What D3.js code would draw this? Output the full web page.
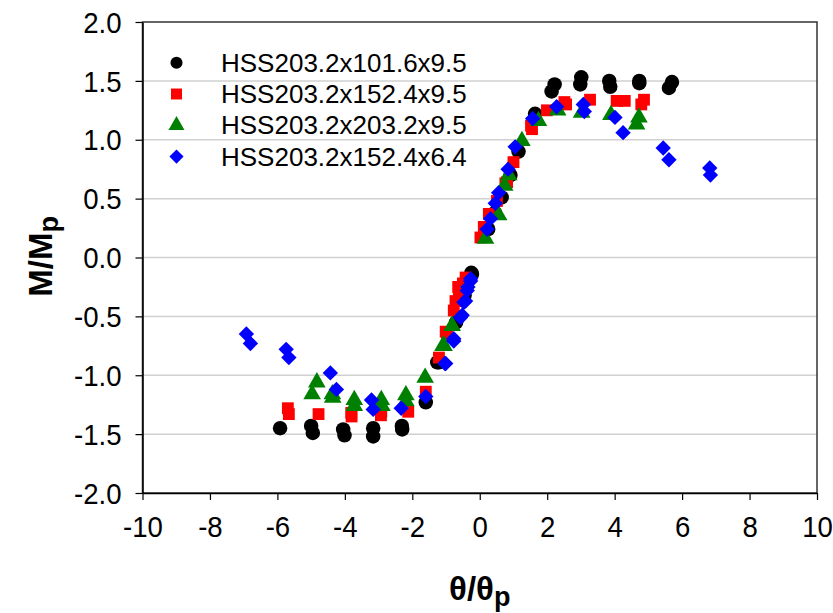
<!DOCTYPE html>
<html>
<head>
<meta charset="utf-8">
<script src="https://cdn.jsdelivr.net/npm/d3@7"></script>
<style>
  body { margin: 0; background: #fff; }
  text { font-family: "Liberation Sans", Arial, sans-serif; }
</style>
</head>
<body>
<div id="chart"></div>
<script>
// series names
var NAMES = ["HSS203.2x101.6x9.5", "HSS203.2x152.4x9.5", "HSS203.2x203.2x9.5", "HSS203.2x152.4x6.4"];

// black circles
var s1 = [[2.22,1.47],[2.13,1.41],[3.01,1.53],[2.98,1.47],[3.84,1.50],[3.87,1.45],[4.73,1.50],[4.73,1.48],
  [5.70,1.49],[5.61,1.44],[1.64,1.22],[1.15,0.90],[0.91,0.70],[0.65,0.51],[0.45,0.38],[0.25,0.24],
  [-0.23,-0.14],[-0.25,-0.13],[-0.45,-0.32],[-0.7,-0.55],[-1.26,-0.89],[-1.21,-0.89],[-1.60,-1.23],
  [-2.31,-1.43],[-2.30,-1.46],[-3.16,-1.45],[-3.16,-1.52],[-4.05,-1.46],[-4.01,-1.51],
  [-5.0,-1.43],[-4.95,-1.49],[-5.92,-1.45]];
// red squares
var s2 = [[2.51,1.32],[2.56,1.30],[3.27,1.34],[4.06,1.33],[4.3,1.33],[4.87,1.34],[4.79,1.30],[1.99,1.25],
  [1.55,1.09],[1.52,1.12],[1.0,0.81],[0.81,0.64],[0.76,0.63],[0.51,0.48],[0.27,0.37],[0.12,0.26],[0.02,0.17],
  [-0.42,-0.17],[-0.50,-0.22],[-0.62,-0.34],[-0.64,-0.25],[-0.72,-0.37],[-0.77,-0.45],[-0.97,-0.66],
  [-1.01,-0.63],[-1.21,-0.85],[-1.60,-1.14],[-2.12,-1.31],[-2.93,-1.34],[-2.92,-1.31],[-3.80,-1.35],
  [-3.81,-1.32],[-4.78,-1.33],[-5.69,-1.28],[-5.66,-1.33]];
// green triangles
var s3 = [[2.31,1.25],[3.02,1.23],[3.89,1.21],[4.72,1.19],[4.65,1.13],[1.74,1.16],[1.25,0.99],[0.86,0.70],
  [0.74,0.61],[0.56,0.36],[0.17,0.16],[-0.82,-0.58],[-1.06,-0.75],[-1.09,-0.75],[-1.62,-1.02],
  [-2.19,-1.17],[-2.19,-1.22],[-2.92,-1.21],[-2.90,-1.26],[-3.72,-1.21],[-3.72,-1.26],[-4.36,-1.19],
  [-4.37,-1.16],[-4.83,-1.06],[-4.97,-1.16]];
// blue diamonds
var s4 = [[2.28,1.28],[3.07,1.30],[3.10,1.24],[4.01,1.19],[4.25,1.06],[5.44,0.93],[5.61,0.83],[6.82,0.76],
  [6.84,0.70],[1.57,1.18],[1.05,0.94],[0.84,0.75],[0.56,0.55],[0.46,0.46],[0.32,0.33],[0.22,0.24],
  [-0.27,-0.18],[-0.27,-0.20],[-0.35,-0.25],[-0.37,-0.28],[-0.42,-0.37],[-0.47,-0.38],[-0.52,-0.49],
  [-0.57,-0.51],[-0.77,-0.69],[-0.77,-0.71],[-1.01,-0.90],[-1.03,-0.90],[-1.60,-1.18],[-2.33,-1.28],
  [-3.21,-1.21],[-3.16,-1.29],[-4.25,-1.12],[-4.43,-0.98],[-5.66,-0.85],[-5.74,-0.78],[-6.80,-0.73],[-6.92,-0.65]];

var X_TICKS = [-10,-8,-6,-4,-2,0,2,4,6,8,10];
var Y_TICKS = [-2.0,-1.5,-1.0,-0.5,0.0,0.5,1.0,1.5,2.0];

var margin = {top: 22, right: 16, bottom: 120, left: 142.5},
    width = 833 - margin.left - margin.right,
    height = 613 - margin.top - margin.bottom;

var svg = d3.select("#chart")
    .append("svg")
    .attr("width", 833)
    .attr("height", 613)
    .append("g")
    .attr("transform", "translate(" + margin.left + "," + margin.top + ")");

var x = d3.scaleLinear().domain([-10, 10]).range([0, width]);
var y = d3.scaleLinear().domain([-2, 2]).range([height, 0]);

// gridlines
svg.selectAll(".grid")
    .data(Y_TICKS.slice(1, -1))
    .enter().append("line")
    .attr("x1", 0).attr("x2", width)
    .attr("y1", function(d) { return y(d); })
    .attr("y2", function(d) { return y(d); })
    .attr("stroke", "#d0d0d0").attr("stroke-width", 1.5);

// frame
svg.append("rect")
    .attr("width", width).attr("height", height)
    .attr("fill", "none").attr("stroke", "#333").attr("stroke-width", 1.5);

// plain hyphen for negatives, like the original
var hy = function(f) { return function(d) { return f(d).replace("\u2212", "-"); }; };

var xAxis = svg.append("g")
    .attr("transform", "translate(0," + height + ")")
    .call(d3.axisBottom(x).tickValues(X_TICKS).tickFormat(hy(d3.format("d")))
      .tickSizeInner(7).tickSizeOuter(0).tickPadding(15));
var yAxis = svg.append("g")
    .call(d3.axisLeft(y).tickValues(Y_TICKS).tickFormat(hy(d3.format(".1f")))
      .tickSizeInner(7).tickSizeOuter(0).tickPadding(14));

[xAxis, yAxis].forEach(function(a) {
  a.select(".domain").attr("stroke", "#000").attr("stroke-width", 1.5);
  a.selectAll(".tick line").attr("stroke", "#000").attr("stroke-width", 1.2);
  a.selectAll("text").attr("font-size", 30).attr("fill", "#000")
    .style("font-family", "'Liberation Sans', Arial, sans-serif");
});
// tick labels are a bit narrow in the original
yAxis.selectAll("text").attr("dy", "0.34em").attr("x", 0)
    .attr("transform", "translate(-21,0) scale(0.92,1)");
xAxis.selectAll("text").attr("dy", "0.72em")
    .attr("transform", "scale(0.92,1)");

// markers (diamond = square turned 45 degrees)
var shapes = [d3.symbolCircle, d3.symbolSquare, d3.symbolTriangle, d3.symbolSquare];
var rot = [0, 0, 0, 45];
var sizes = [165, 140, 135, 118];
var legendSizes = [115, 120, 110, 100];
var colors = ["#000000", "#ff0000", "#008000", "#0000ff"];
var series = [s1, s2, s3, s4];

series.forEach(function(data, i) {
  svg.append("g").selectAll("path")
    .data(data)
    .enter().append("path")
    .attr("d", d3.symbol().type(shapes[i]).size(sizes[i]))
    .attr("transform", function(d) {
      return "translate(" + x(d[0]) + "," + y(d[1]) + ") rotate(" + rot[i] + ")";
    })
    .attr("fill", colors[i]);
});

// legend
var legend = svg.append("g");
NAMES.forEach(function(name, i) {
  var ly = 40.7 + i * 31.3;
  legend.append("path")
    .attr("d", d3.symbol().type(shapes[i]).size(legendSizes[i]))
    .attr("transform", "translate(34," + ly + ") rotate(" + rot[i] + ")")
    .attr("fill", colors[i]);
  legend.append("text")
    .attr("x", 78.5).attr("y", ly).attr("dy", "0.35em")
    .attr("font-size", 26)
    .text(name);
});

// axis titles
var xt = svg.append("text")
    .attr("x", x(0)).attr("y", height + 107)
    .attr("text-anchor", "middle")
    .attr("font-size", 33).attr("font-weight", "bold");
xt.append("tspan").text("θ/θ");
xt.append("tspan").attr("font-size", 27).attr("dy", 6).text("p");

var yt = svg.append("text")
    .attr("transform", "translate(" + (-90.5) + "," + y(0.01) + ") rotate(-90)")
    .attr("text-anchor", "middle")
    .attr("font-size", 33).attr("font-weight", "bold");
yt.append("tspan").text("M/M");
yt.append("tspan").attr("font-size", 27).attr("dy", 6).text("p");
</script>
</body>
</html>
